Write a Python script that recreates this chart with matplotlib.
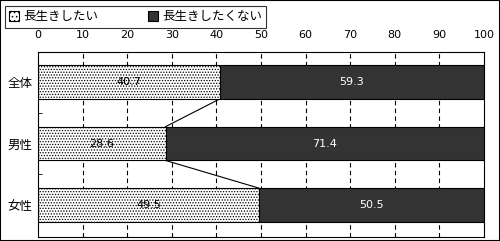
import matplotlib.pyplot as plt
import matplotlib.patches as mpatches
import numpy as np

plt.rcParams['font.family'] = ['Noto Sans CJK JP', 'DejaVu Sans']
plt.rcParams['hatch.color'] = 'black'
plt.rcParams['hatch.linewidth'] = 0.6

categories = ['全体', '男性', '女性']
want_long = [40.7, 28.6, 49.5]
not_want_long = [59.3, 71.4, 50.5]
series_names = ['長生きしたい', '長生きしたくない']
xticks = [0, 10, 20, 30, 40, 50, 60, 70, 80, 90, 100]

fig = plt.figure(figsize=(5, 2.41), dpi=100)
ax = fig.add_axes([0.076, 0.017, 0.892, 0.767])

y = np.arange(len(categories))
h = 0.55

for x in xticks[1:-1]:
    ax.axvline(x, color='black', lw=0.8, ls=(0, (4, 3)), zorder=0)

ax.barh(y, want_long, height=h, color='white', edgecolor='black',
        hatch='......', lw=0.8, zorder=2)
ax.barh(y, not_want_long, left=want_long, height=h, color='#333333',
        edgecolor='black', lw=0.8, zorder=2)

for i in range(len(y)):
    ax.text(want_long[i] / 2, y[i], f'{want_long[i]:.1f}', ha='center',
            va='center', fontsize=8, family='DejaVu Sans', zorder=3)
    ax.text(want_long[i] + not_want_long[i] / 2, y[i], f'{not_want_long[i]:.1f}',
            ha='center', va='center', fontsize=8, color='white',
            family='DejaVu Sans', zorder=3)

# series lines between bars
for i in range(len(y) - 1):
    ax.plot([want_long[i], want_long[i + 1]], [y[i] + h / 2, y[i + 1] - h / 2],
            color='black', lw=0.8, zorder=1)

ax.set_xlim(0, 100)
ax.set_ylim(2.52, -0.49)
ax.set_xticks(xticks)
ax.xaxis.tick_top()
ax.tick_params(axis='x', length=0, labelsize=8, pad=9)
ax.set_yticks(y)
ax.set_yticklabels(categories, fontsize=9)
ax.set_yticks([0.5, 1.5], minor=True)
ax.tick_params(axis='y', which='major', length=0, pad=4)
ax.tick_params(axis='y', which='minor', direction='in', length=3)
for lbl in ax.get_xticklabels():
    lbl.set_family('DejaVu Sans')
for s in ax.spines.values():
    s.set_linewidth(0.8)

handles = [mpatches.Patch(facecolor='white', edgecolor='black', hatch='....', lw=0.8),
           mpatches.Patch(facecolor='#333333', edgecolor='black', lw=0.8)]
leg = fig.legend(handles, series_names, loc='upper left', bbox_to_anchor=(0.01, 0.975),
                 ncol=2, fontsize=9, frameon=True, fancybox=False,
                 handlelength=0.8, handleheight=0.8, handletextpad=0.3,
                 columnspacing=4.0, borderpad=0.35, borderaxespad=0)
leg.get_frame().set_edgecolor('black')
leg.get_frame().set_linewidth(0.8)

fig.patches.append(mpatches.Rectangle((0, 0), 1, 1, transform=fig.transFigure,
                                      fill=False, edgecolor='black', lw=1.5))

fig.savefig('out.png', dpi=100)
